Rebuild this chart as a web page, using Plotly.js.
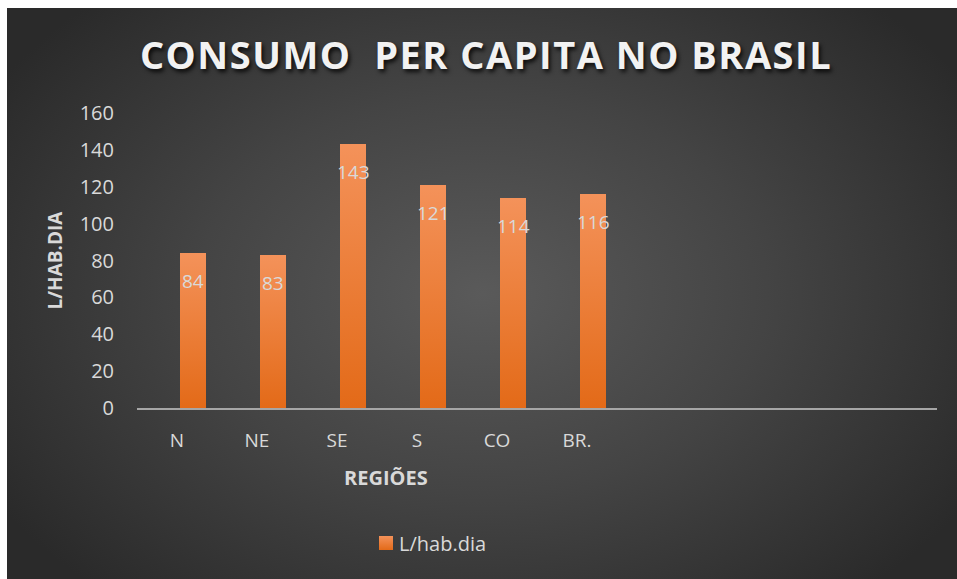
<!DOCTYPE html>
<html>
<head>
<meta charset="utf-8">
<script src="https://cdn.plot.ly/plotly-3.0.1.min.js"></script>
<style>
  html, body { margin: 0; padding: 0; background: #ffffff; width: 957px; height: 579px; overflow: hidden; }
  #bg { position: absolute; left: 7px; top: 8px; width: 950px; height: 571px;
        background: radial-gradient(ellipse 60% 70% at 50% 50%, #5a5a5a 0%, #444444 50%, #2a2a2a 100%); }
  #chart { position: absolute; left: 0; top: 0; width: 957px; height: 579px; }
</style>
</head>
<body>
<div id="bg"></div>
<div id="chart"></div>
<script>
// Data
const regioes = ["N", "NE", "SE", "S", "CO", "BR."];
const consumo = [84, 83, 143, 121, 114, 116];
const seriesName = "L/hab.dia";
const yTicks = [0, 20, 40, 60, 80, 100, 120, 140, 160];
const totalSlots = 10; // the category axis has room for 10 slots

const xIdx = regioes.map((_, i) => i);
const barOffset = 0.0375, barWidth = 0.325;

const font = "'Open Sans', sans-serif";
const labelColor = "#d9d9d9";

const trace = {
  type: "bar",
  name: seriesName,
  x: xIdx,
  y: consumo,
  width: barWidth,
  offset: barOffset,
  marker: { color: "#ee7a2e", line: { width: 0 } },
  hoverinfo: "x+y",
  showlegend: true
};

const annotations = consumo.map((v, i) => ({
  x: i + barOffset + barWidth / 2, y: v, xref: "x", yref: "y",
  text: String(v), showarrow: false, yshift: -28,
  font: { family: font, size: 19, color: labelColor }
}));
annotations.push({
  x: (386 - 137) / 800, y: (408 - 477) / 295, xref: "paper", yref: "paper",
  text: "<b>REGIÕES</b>", showarrow: false, xanchor: "center", yanchor: "middle",
  font: { family: font, size: 20, color: labelColor }
});

const layout = {
  width: 957, height: 579,
  paper_bgcolor: "rgba(0,0,0,0)",
  plot_bgcolor: "rgba(0,0,0,0)",
  margin: { l: 137, r: 20, t: 113, b: 171, pad: 0 },
  title: {
    text: "<b>CONSUMO  PER CAPITA NO BRASIL</b>",
    x: 486 / 957, xanchor: "center", y: 1 - 56 / 579, yanchor: "middle", yref: "container",
    font: { family: font, size: 38, color: "#f2f2f2", shadow: "2px 3px 4px rgba(0,0,0,0.8)" }
  },
  xaxis: {
    range: [-0.5, totalSlots - 0.5],
    tickvals: xIdx, ticktext: regioes,
    showgrid: false, zeroline: false,
    showline: true, linecolor: "#a6a6a6", linewidth: 2,
    ticks: "", ticklabelstandoff: 14,
    tickfont: { family: font, size: 19, color: labelColor },
    fixedrange: true
  },
  yaxis: {
    range: [0, 160], tickvals: yTicks,
    showgrid: false, zeroline: false, showline: false,
    ticks: "", ticklabelstandoff: 22,
    tickfont: { family: font, size: 20, color: labelColor },
    title: { text: "<b>L/HAB.DIA</b>", standoff: 12, font: { family: font, size: 19, color: labelColor } },
    fixedrange: true
  },
  legend: {
    orientation: "h", x: (359 - 137) / 800, xanchor: "left",
    y: (408 - 543) / 295, yanchor: "middle",
    font: { family: font, size: 20, color: labelColor },
    bgcolor: "rgba(0,0,0,0)"
  },
  annotations: annotations,
  bargap: 0
};

Plotly.newPlot("chart", [trace], layout, { displayModeBar: false, staticPlot: false }).then(gd => {
  // vertical gradient fill on the bars, like the reference
  const svg = gd.querySelector("svg.main-svg");
  const ns = "http://www.w3.org/2000/svg";
  let defs = svg.querySelector("defs");
  if (!defs) { defs = document.createElementNS(ns, "defs"); svg.insertBefore(defs, svg.firstChild); }
  const g = document.createElementNS(ns, "linearGradient");
  g.setAttribute("id", "barGrad");
  g.setAttribute("x1", "0"); g.setAttribute("y1", "0"); g.setAttribute("x2", "0"); g.setAttribute("y2", "1");
  [["0", "#f4925a"], ["1", "#e36a18"]].forEach(([o, c]) => {
    const s = document.createElementNS(ns, "stop");
    s.setAttribute("offset", o); s.setAttribute("stop-color", c);
    g.appendChild(s);
  });
  defs.appendChild(g);
  gd.querySelectorAll(".bars .point path").forEach(p => { p.style.fill = "url(#barGrad)"; });
  // larger legend square, closer to its text
  gd.querySelectorAll(".legend .legendpoints path").forEach(p => {
    p.setAttribute("d", "M0,-7H14V7H0Z");
    p.style.fill = "url(#barGrad)";
  });
  // slight letter spacing on the title
  gd.querySelectorAll(".gtitle").forEach(t => { t.style.letterSpacing = "1.5px"; });
});
</script>
</body>
</html>
